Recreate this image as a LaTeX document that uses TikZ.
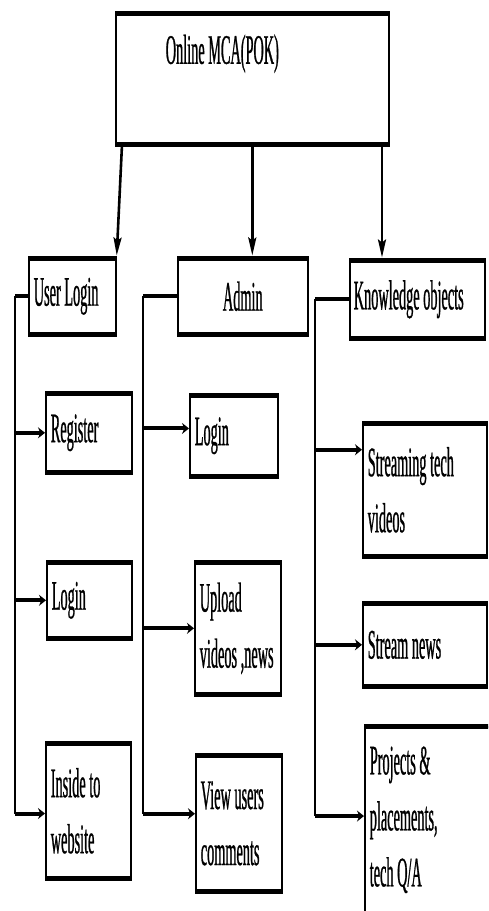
\documentclass[tikz,border=0pt]{standalone}
\usepackage{fontspec}
\setmainfont[FakeStretch=0.34, FakeBold=0.6]{Liberation Serif}
\usetikzlibrary{arrows.meta,calc}
\newcommand\boxfont{\fontsize{42}{56}\selectfont}
\newcommand\wsp{\hspace*{3.6pt}}

\begin{document}
\begin{tikzpicture}[
  x=1pt, y=-1pt,
  font=\boxfont,
  box/.style={
    draw, line width=1.6pt, anchor=north west,
    inner xsep=5pt, inner ysep=0pt, align=left
  },
  edge/.style={line width=5pt},
  bus/.style={line width=1.8pt},
  stub/.style={line width=4pt},
  branch/.style={line width=4pt, -{Stealth[length=7pt,width=11pt]}},
  down/.style={line width=2.6pt, shorten >=2.5pt,
    -{Stealth[length=18pt,width=8pt,inset=3pt]}}
]
\useasboundingbox (0,0) rectangle (488,911);
\fill[white] (0,0) rectangle (488,911);
\clip (0,0) rectangle (488,911);

% ---- boxes ----------------------------------------------------------------
\node[box, minimum width=273pt, minimum height=130pt, inner xsep=50pt,
  text width=173pt, text height=50pt, text depth=80pt] (top) at (115,13) {Online\wsp MCA(POK)};

\node[box, minimum width=87pt,  minimum height=75pt, text width=77pt] (ul) at (28,258) {User\wsp Login};
\node[box, minimum width=130pt, minimum height=75pt, text width=120pt, align=center] (adm) at (177,258) {Admin};
\node[box, minimum width=135pt, minimum height=77pt, inner xsep=4pt, text width=127pt] (ko) at (349,260) {Knowledge\wsp objects};

% user login side
\node[box, minimum width=86pt, minimum height=78pt,  text width=76pt] (reg) at (45,393) {Register};
\node[box, minimum width=85pt, minimum height=75pt,  text width=75pt] (uli) at (46,562) {Login};
\node[box, minimum width=85pt, minimum height=134pt, text width=75pt] (ins) at (45,743) {Inside\wsp to\\ website};

% admin side
\node[box, minimum width=88pt, minimum height=80pt,  text width=78pt] (ali) at (189,395) {Login};
\node[box, minimum width=86pt, minimum height=131pt, text width=76pt] (upl) at (194,562) {Upload\\ videos\wsp,news};
\node[box, minimum width=86pt, minimum height=135pt, text width=76pt] (vuc) at (195,755) {View\wsp users\\ comments};

% knowledge side
\node[box, minimum width=124pt, minimum height=132pt, text width=114pt] (stv) at (362,423) {Streaming\wsp tech\\ videos};
\node[box, minimum width=124pt, minimum height=82pt,  text width=114pt] (stn) at (362,603) {Stream\wsp news};
\node[box, minimum width=150pt, minimum height=186pt, text width=140pt] (pro) at (364,726) {Projects\wsp\&\\ placements,\\ tech\wsp Q/A};

% thick top and bottom edges
\foreach \b in {top,ul,adm,ko,reg,uli,ins,ali,upl,vuc,stv,stn,pro}
  \draw[edge] (\b.north west) -- (\b.north east) (\b.south west) -- (\b.south east);

% ---- arrows from the top --------------------------------------------------
\coordinate (kotop) at ($(ko.north west)+(33,0)$);
\draw[down] ($(top.south west)+(7,0)$) -- (ul.north east);
\draw[down] (top.south) -- (top.south |- adm.north);
\draw[down] (top.south -| kotop) -- (kotop);

% ---- branch lines ---------------------------------------------------------
\coordinate (ulbus)  at ($(ul.west)+(-13,0)$);
\coordinate (admbus) at ($(adm.west)+(-34,0)$);
\coordinate (kobus)  at ($(ko.west)+(-34,0)$);

\foreach \b/\f in {reg/0.5, uli/0.5, ins/0.52, ali/0.41, upl/0.5, vuc/0.43, stv/0.2, stn/0.5, pro/0.48}
  \coordinate (\b-in) at ($(\b.north west)!\f!(\b.south west)$);

\draw[stub] (ul.west)  -- (ulbus);
\draw[stub] (adm.west) -- (admbus);
\draw[stub] (ko.west)  -- (kobus);

\draw[bus] (ulbus)  -- (ulbus |- ins-in);
\draw[bus] (admbus) -- (admbus |- vuc-in);
\draw[bus] (kobus)  -- (kobus |- pro-in);

\foreach \b in {reg,uli,ins}
  \draw[branch] (ulbus |- \b-in) -- (\b-in);
\foreach \b in {ali,upl,vuc}
  \draw[branch] (admbus |- \b-in) -- (\b-in);
\foreach \b in {stv,stn,pro}
  \draw[branch] (kobus |- \b-in) -- (\b-in);

\end{tikzpicture}
\end{document}
